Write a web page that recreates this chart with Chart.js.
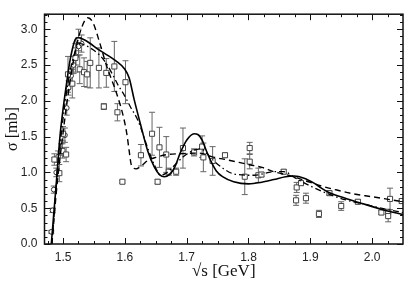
<!DOCTYPE html>
<html><head><meta charset="utf-8">
<script src="https://cdn.jsdelivr.net/npm/chart.js@4"></script>
<style>html,body{margin:0;padding:0;background:#fff}#wrap{width:409px;height:285px}</style>
</head><body><div id="wrap"><canvas id="c" width="409" height="285"></canvas></div>
<script>
const xTicks = [1.5, 1.6, 1.7, 1.8, 1.9, 2.0];
const yTicks = [0.0, 0.5, 1.0, 1.5, 2.0, 2.5, 3.0];

const sqX = [1.486,1.494,1.499,1.505,1.500,1.508,1.515,1.520,1.525,1.527,1.534,1.539,1.544,1.558,1.570,1.583,1.601,1.566,1.588,1.596,1.626,1.644,1.656,1.653,1.667,1.671,1.683,1.694,1.712,1.725,1.727,1.742,1.762,1.794,1.802,1.802,1.816,1.821,1.857,1.878,1.877,1.885,1.893,1.914,1.931,1.950,1.977,2.015,2.026,2.026,2.029,2.048];
const sqY = [1.18,0.99,1.30,1.25,1.54,2.37,2.24,2.60,2.85,2.44,2.40,2.37,2.53,2.46,2.39,2.48,2.26,1.92,1.84,0.87,1.24,1.54,1.35,0.87,1.25,1.01,1.01,1.34,1.28,1.36,1.21,1.16,1.24,0.94,1.34,1.15,0.96,0.97,1.01,0.79,0.61,0.85,0.64,0.42,0.71,0.53,0.59,0.44,0.45,0.39,0.63,0.60];
const sqErr = [0.08,0.12,0.10,0.10,0.10,0.25,0.20,0.20,0.15,0.20,0.20,0.18,0.35,0.28,0.20,0.35,0.30,0.04,0.12,0.02,0.15,0.30,0.28,0.03,0.25,0.05,0.05,0.28,0.05,0.15,0.20,0.20,0.03,0.25,0.08,0.10,0.10,0.03,0.03,0.07,0.07,0.03,0.07,0.05,0.03,0.06,0.03,0.03,0.03,0.08,0.15,0.03];

const ciX = [1.481,1.483,1.485,1.489,1.492,1.497,1.503,1.506,1.509,1.513,1.517,1.521,1.525,1.530];
const ciY = [0.17,0.47,0.76,1.00,1.22,1.32,1.52,1.90,2.18,2.35,2.50,2.62,2.76,2.80];
const ciErr = [0.02,0.03,0.05,0.06,0.08,0.08,0.10,0.10,0.10,0.10,0.12,0.12,0.12,0.12];

const solidX = [1.481,1.49,1.495,1.50,1.505,1.51,1.515,1.52,1.525,1.535,1.56,1.585,1.60,1.607,1.615,1.626,1.637,1.648,1.656,1.664,1.672,1.680,1.690,1.700,1.712,1.718,1.725,1.732,1.739,1.748,1.758,1.776,1.80,1.82,1.841,1.86,1.874,1.89,1.906,1.918,1.93,1.96,1.99,2.013,2.05];
const solidY = [0,0.95,1.5,1.88,2.2,2.5,2.72,2.86,2.88,2.85,2.70,2.56,2.44,2.32,2.02,1.65,1.30,1.07,0.97,0.94,0.97,1.06,1.28,1.45,1.54,1.53,1.45,1.30,1.16,1.02,0.94,0.87,0.84,0.86,0.90,0.94,0.95,0.92,0.85,0.78,0.72,0.63,0.55,0.49,0.41];

const dashX = [1.482,1.49,1.50,1.51,1.52,1.53,1.54,1.548,1.559,1.57,1.586,1.597,1.603,1.607,1.61,1.613,1.618,1.628,1.636,1.65,1.669,1.688,1.72,1.745,1.763,1.80,1.822,1.841,1.86,1.88,1.90,1.918,1.94,1.97,2.0,2.05];
const dashY = [0,0.8,1.55,2.2,2.7,3.02,3.16,3.10,2.82,2.50,2.12,1.80,1.55,1.30,1.12,1.07,1.05,1.10,1.16,1.21,1.25,1.26,1.27,1.21,1.18,1.11,1.07,1.01,0.97,0.92,0.86,0.81,0.76,0.70,0.66,0.59];

const ddX = [1.482,1.49,1.50,1.51,1.52,1.527,1.535,1.559,1.57,1.58,1.589,1.599,1.61,1.621,1.637,1.648,1.658,1.667,1.677,1.696,1.712,1.723,1.733,1.744,1.76,1.776,1.809,1.841,1.857,1.878,1.90,1.932,1.96,1.986,2.02,2.05];
const ddY = [0,0.9,1.75,2.35,2.7,2.80,2.78,2.64,2.52,2.37,2.22,2.08,1.90,1.73,1.34,1.10,0.96,0.99,1.07,1.23,1.31,1.33,1.26,1.16,1.05,0.98,0.96,1.01,1.01,0.91,0.81,0.69,0.61,0.56,0.49,0.44];

const pts = (xs, ys) => xs.map((x, i) => ({x: x, y: ys[i]}));

const errorBars = {
  id: 'errorBars',
  beforeDatasetsDraw(chart) {
    const {ctx, scales: {x, y}} = chart;
    ctx.save();
    ctx.beginPath();
    ctx.rect(chart.chartArea.left, chart.chartArea.top, chart.chartArea.right - chart.chartArea.left, chart.chartArea.bottom - chart.chartArea.top);
    ctx.clip();
    ctx.strokeStyle = '#666';
    ctx.lineWidth = 1;
    const draw = (xs, ys, es) => {
      xs.forEach((xv, i) => {
        const px = x.getPixelForValue(xv);
        const y1 = y.getPixelForValue(ys[i] - es[i]);
        const y2 = y.getPixelForValue(ys[i] + es[i]);
        ctx.beginPath();
        ctx.moveTo(px, y1); ctx.lineTo(px, y2);
        ctx.moveTo(px - 3, y1); ctx.lineTo(px + 3, y1);
        ctx.moveTo(px - 3, y2); ctx.lineTo(px + 3, y2);
        ctx.stroke();
      });
    };
    draw(sqX, sqY, sqErr);
    draw(ciX, ciY, ciErr);
    ctx.restore();
  }
};

const frame = {
  id: 'frame',
  afterDraw(chart) {
    const {ctx, chartArea: a, scales: {x, y}} = chart;
    ctx.save();
    ctx.strokeStyle = '#111';
    ctx.lineWidth = 1.5;
    ctx.strokeRect(a.left, a.top, a.right - a.left, a.bottom - a.top);
    ctx.lineWidth = 1;
    ctx.beginPath();
    for (let v = 1.475; v <= 2.05 + 1e-9; v += 0.025) {
      const px = Math.round(x.getPixelForValue(v)) + 0.5;
      if (px < a.left || px > a.right) continue;
      const major = Math.abs(v * 10 - Math.round(v * 10)) < 1e-6;
      const len = major ? 6 : 3;
      ctx.moveTo(px, a.bottom); ctx.lineTo(px, a.bottom - len);
      ctx.moveTo(px, a.top); ctx.lineTo(px, a.top + len);
    }
    for (let v = 0; v <= 3.2 + 1e-9; v += 0.1) {
      const py = Math.round(y.getPixelForValue(v)) + 0.5;
      const major = Math.abs(v * 2 - Math.round(v * 2)) < 1e-6;
      const len = major ? 6 : 3;
      ctx.moveTo(a.left, py); ctx.lineTo(a.left + len, py);
      ctx.moveTo(a.right, py); ctx.lineTo(a.right - len, py);
    }
    ctx.stroke();
    ctx.restore();
  }
};

new Chart(document.getElementById('c'), {
  type: 'scatter',
  data: {
    datasets: [
      {label: 'solid', data: pts(solidX, solidY), showLine: true, borderColor: '#000', borderWidth: 1.6, pointRadius: 0, cubicInterpolationMode: 'monotone', fill: false},
      {label: 'dashed', data: pts(dashX, dashY), showLine: true, borderColor: '#000', borderWidth: 1.4, borderDash: [6, 4], pointRadius: 0, cubicInterpolationMode: 'monotone', fill: false},
      {label: 'dashdot', data: pts(ddX, ddY), showLine: true, borderColor: '#000', borderWidth: 1.3, borderDash: [6, 3, 1.5, 3], pointRadius: 0, cubicInterpolationMode: 'monotone', fill: false},
      {label: 'data1', data: pts(sqX, sqY), pointStyle: 'rect', pointRadius: 3.6, pointBackgroundColor: '#fff', pointBorderColor: '#444', pointBorderWidth: 1},
      {label: 'data2', data: pts(ciX, ciY), pointStyle: 'circle', pointRadius: 2.4, pointBackgroundColor: '#fff', pointBorderColor: '#333', pointBorderWidth: 1}
    ]
  },
  options: {
    responsive: false,
    animation: false,
    devicePixelRatio: 1,
    layout: {padding: {top: 2, right: 6, left: 0, bottom: 0}},
    plugins: {legend: {display: false}, tooltip: {enabled: false}},
    scales: {
      x: {
        type: 'linear', min: 1.47, max: 2.05,
        afterBuildTicks: s => { s.ticks = xTicks.map(v => ({value: v})); },
        afterFit: s => { s.height = 41; },
        grid: {display: false, drawTicks: false},
        border: {display: false},
        ticks: {padding: 6, color: '#222', font: {family: 'Liberation Sans', size: 12}, callback: v => v.toFixed(1), autoSkip: false, maxRotation: 0},
        title: {display: true, text: '√s [GeV]', color: '#111', font: {family: 'Liberation Serif', size: 17}, padding: {top: 0, bottom: 3}}
      },
      y: {
        type: 'linear', min: 0, max: 3.21,
        afterBuildTicks: s => { s.ticks = yTicks.map(v => ({value: v})); },
        afterFit: s => { s.width = 44.5; },
        grid: {display: false, drawTicks: false},
        border: {display: false},
        ticks: {padding: 7, color: '#222', font: {family: 'Liberation Sans', size: 12}, callback: v => v.toFixed(1)},
        title: {display: true, text: 'σ [mb]', color: '#111', font: {family: 'Liberation Serif', size: 16}, padding: {top: 3, bottom: 0}}
      }
    }
  },
  plugins: [errorBars, frame]
});
</script>
</body></html>
